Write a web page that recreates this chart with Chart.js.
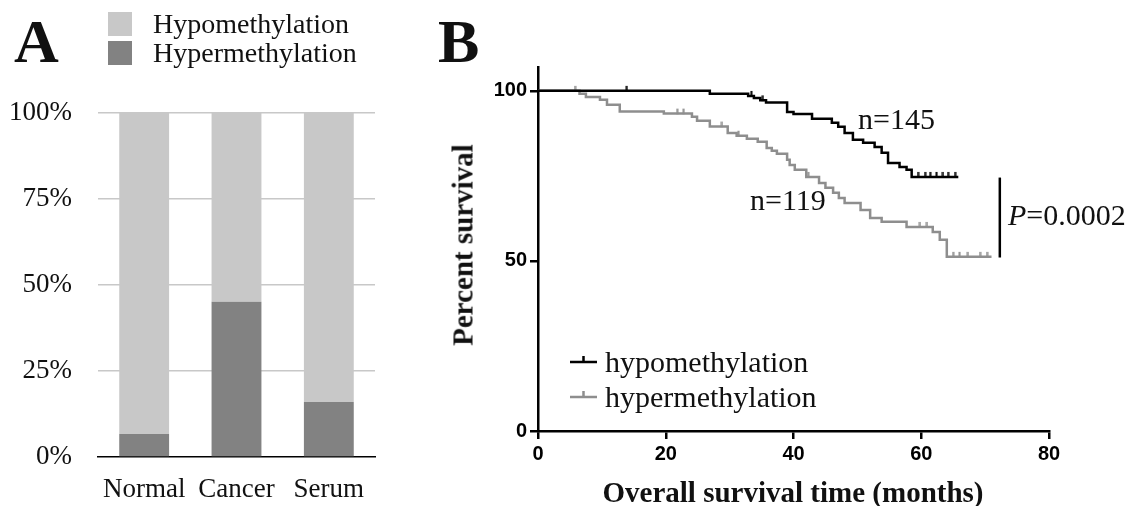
<!DOCTYPE html>
<html>
<head>
<meta charset="utf-8">
<script src="https://cdn.jsdelivr.net/npm/chart.js@4.4.0/dist/chart.umd.min.js"></script>
<style>
  body { margin: 0; background: #fff; }
  #wrap { position: relative; width: 1127px; height: 506px; overflow: hidden; font-family: "Liberation Serif", "Times New Roman", serif; color: #111; }
  .abs { position: absolute; white-space: nowrap; line-height: 1; }
  canvas { position: absolute; top: 0; }
</style>
</head>
<body>
<div id="wrap">
  <canvas id="barChart" width="400" height="506" style="left:0"></canvas>
  <canvas id="kmChart" width="697" height="506" style="left:430px"></canvas>

  <div class="abs" style="left:14px; top:10px; font-size:62px; font-weight:bold;">A</div>
  <div class="abs" style="left:108px; top:12px; width:24px; height:24px; background:#c8c8c8;"></div>
  <div class="abs" style="left:108px; top:41px; width:24px; height:24px; background:#828282;"></div>
  <div class="abs" style="left:153px; top:10px; font-size:28px;">Hypomethylation</div>
  <div class="abs" style="left:153px; top:39px; font-size:28px;">Hypermethylation</div>

  <div class="abs" style="left:438px; top:10px; font-size:62px; font-weight:bold;">B</div>
  <div class="abs" style="left:463px; top:245px; font-size:29px; font-weight:bold; transform:translate(-50%,-50%) rotate(-90deg);">Percent survival</div>
  <div class="abs" style="left:793px; top:492px; font-size:29px; font-weight:bold; transform:translate(-50%,-50%);">Overall survival time (months)</div>
  <div class="abs" style="left:858px; top:104px; font-size:30px;">n=145</div>
  <div class="abs" style="left:750px; top:185px; font-size:30px;">n=119</div>
  <div class="abs" style="left:1008px; top:200px; font-size:30px;"><i>P</i>=0.0002</div>
  <div class="abs" style="left:605px; top:347px; font-size:30px;">hypomethylation</div>
  <div class="abs" style="left:605px; top:382px; font-size:30px;">hypermethylation</div>
</div>

<script>
// ---- panel A data ----
const categorias = ["Normal", "Cancer", "Serum"];
const hiper = [6.7, 45.1, 16.0];
const hipo = [93.3, 54.9, 84.0];
const ticksA = [0, 25, 50, 75, 100];

// ---- panel B data (time in months, percent survival after each drop) ----
const hypoTempo = [0, 26.9, 32.9, 33.8, 34.8, 35.7, 39.0, 40.0, 42.9, 46.0, 47.0, 48.0, 49.3, 50.9, 52.7, 53.8, 54.8, 56.6, 57.7, 58.5, 65.8];
const hypoSurv  = [100, 99.1, 98.5, 97.9, 97.2, 96.6, 93.8, 93.2, 91.8, 90.6, 89.4, 87.6, 85.6, 84.7, 83.5, 81.8, 78.8, 77.6, 76.8, 74.7, 74.7];
const hypoCens  = [13.9, 33.4, 35.2, 59.5, 60.6, 61.4, 62.4, 63.4, 64.2, 65.3];

const hyperTempo = [0, 6.5, 7.5, 9.7, 10.8, 12.8, 19.7, 24.1, 24.9, 26.9, 29.7, 31.1, 32.7, 34.4, 35.8, 36.6, 37.4, 39.0, 39.4, 40.2, 42.0, 44.0, 45.0, 46.2, 47.1, 48.0, 50.5, 52.0, 53.8, 57.7, 61.8, 62.9, 64.0, 71.0];
const hyperSurv  = [100, 99.1, 98.2, 97.4, 95.9, 93.9, 93.3, 92.4, 91.2, 89.5, 87.6, 86.8, 85.9, 85.0, 83.2, 82.4, 81.5, 79.7, 78.2, 76.8, 74.7, 72.9, 71.5, 70.0, 68.5, 67.0, 65.0, 62.6, 61.5, 60.0, 58.5, 56.2, 51.2, 51.2];
const hyperCens  = [5.8, 21.8, 22.8, 28.8, 31.4, 42.3, 59.8, 60.9, 65.0, 66.0, 67.3, 69.2, 70.3];

const ticksBx = [0, 20, 40, 60, 80];
const ticksBy = [0, 50, 100];
const pBarra = { x: 72.3, de: 74.5, ate: 51.0 };

const CINZA_CLARO = "#c8c8c8";
const CINZA_ESCURO = "#828282";
const CINZA_LINHA = "#8e8e8e";

// ---------- panel A ----------
new Chart(document.getElementById("barChart").getContext("2d"), {
  type: "bar",
  data: {
    labels: categorias,
    datasets: [
      { label: "Hypermethylation", data: hiper, backgroundColor: CINZA_ESCURO },
      { label: "Hypomethylation", data: hipo, backgroundColor: CINZA_CLARO },
    ],
  },
  options: {
    responsive: false,
    animation: false,
    layout: { padding: { top: 113, right: 25, left: 0, bottom: 0 } },
    plugins: { legend: { display: false }, tooltip: { enabled: false } },
    datasets: { bar: { barPercentage: 0.54, categoryPercentage: 1 } },
    scales: {
      x: {
        stacked: true,
        grid: { display: false },
        border: { display: true, color: "#000", width: 1.5 },
        ticks: { color: "#111", font: { family: "Liberation Serif", size: 27 }, padding: 9 },
        afterFit: (s) => { s.height = 49; },
      },
      y: {
        stacked: true,
        min: 0,
        max: 100,
        afterBuildTicks: (s) => { s.ticks = ticksA.map((v) => ({ value: v })); },
        grid: {
          color: (c) => (c.tick && c.tick.value === 0 ? "rgba(0,0,0,0)" : CINZA_CLARO),
          lineWidth: 1.5,
          drawTicks: false,
        },
        border: { display: false },
        ticks: {
          color: "#111",
          font: { family: "Liberation Serif", size: 27 },
          padding: 26,
          callback: (v) => v + "%",
        },
        afterFit: (s) => { s.width = 98; },
      },
    },
  },
});

// ---------- panel B ----------
function survAt(tempo, surv, t) {
  let s = surv[0];
  for (let i = 0; i < tempo.length; i++) if (tempo[i] <= t) s = surv[i];
  return s;
}

function marcaCensura(cor) {
  const c = document.createElement("canvas");
  c.width = 3; c.height = 12;
  const g = c.getContext("2d");
  g.fillStyle = cor;
  g.fillRect(0.5, 1, 2, 5.5);
  return c;
}

const pontos = (xs, ys) => xs.map((x, i) => ({ x: x, y: ys[i] }));

const marcaPBarra = {
  id: "pBarra",
  afterDatasetsDraw(chart) {
    const { ctx, scales } = chart;
    const x = scales.x.getPixelForValue(pBarra.x);
    ctx.save();
    ctx.strokeStyle = "#000";
    ctx.lineWidth = 2.5;
    ctx.beginPath();
    ctx.moveTo(x, scales.y.getPixelForValue(pBarra.de));
    ctx.lineTo(x, scales.y.getPixelForValue(pBarra.ate));
    ctx.stroke();
    // legend samples
    const amostras = [["#000", 362], [CINZA_LINHA, 397]];
    amostras.forEach(([cor, y]) => {
      ctx.strokeStyle = cor;
      ctx.lineWidth = 2.5;
      ctx.beginPath();
      ctx.moveTo(570 - 430, y);
      ctx.lineTo(597 - 430, y);
      ctx.moveTo(583.5 - 430, y);
      ctx.lineTo(583.5 - 430, y - 6);
      ctx.stroke();
    });
    ctx.restore();
  },
};

new Chart(document.getElementById("kmChart").getContext("2d"), {
  type: "scatter",
  data: {
    datasets: [
      {
        label: "hypomethylation",
        data: pontos(hypoTempo, hypoSurv),
        showLine: true,
        stepped: true,
        borderColor: "#000",
        borderWidth: 2.5,
        pointRadius: 0,
      },
      {
        label: "hypermethylation",
        data: pontos(hyperTempo, hyperSurv),
        showLine: true,
        stepped: true,
        borderColor: CINZA_LINHA,
        borderWidth: 2.5,
        pointRadius: 0,
      },
      {
        label: "hypo censored",
        data: hypoCens.map((t) => ({ x: t, y: survAt(hypoTempo, hypoSurv, t) })),
        pointStyle: marcaCensura("#000"),
        showLine: false,
      },
      {
        label: "hyper censored",
        data: hyperCens.map((t) => ({ x: t, y: survAt(hyperTempo, hyperSurv, t) })),
        pointStyle: marcaCensura(CINZA_LINHA),
        showLine: false,
      },
    ],
  },
  options: {
    responsive: false,
    animation: false,
    layout: { padding: { top: 67, right: 78, left: 0, bottom: 0 } },
    plugins: { legend: { display: false }, tooltip: { enabled: false } },
    scales: {
      x: {
        type: "linear",
        min: 0,
        max: 80,
        afterBuildTicks: (s) => { s.ticks = ticksBx.map((v) => ({ value: v })); },
        grid: { drawOnChartArea: false, drawTicks: true, tickLength: 8, color: "#000", lineWidth: 2.5 },
        border: { display: true, color: "#000", width: 2.5 },
        ticks: { color: "#000", font: { family: "Liberation Sans", size: 20, weight: "bold" }, padding: 3 },
        afterFit: (s) => { s.height = 75; },
      },
      y: {
        min: 0,
        max: 107,
        afterBuildTicks: (s) => { s.ticks = ticksBy.map((v) => ({ value: v })); },
        grid: { drawOnChartArea: false, drawTicks: true, tickLength: 8, color: "#000", lineWidth: 2.5 },
        border: { display: true, color: "#000", width: 2.5 },
        ticks: { color: "#000", font: { family: "Liberation Sans", size: 20, weight: "bold" }, padding: 3 },
        afterFit: (s) => { s.width = 108; },
      },
    },
  },
  plugins: [marcaPBarra],
});
</script>
</body>
</html>
